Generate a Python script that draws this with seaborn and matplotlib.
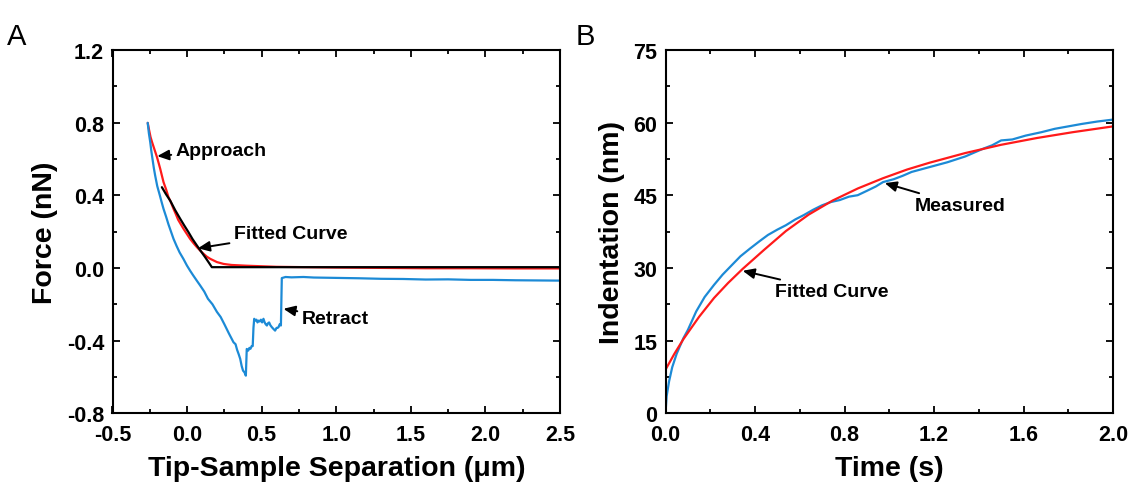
import numpy as np
import pandas as pd
import matplotlib
matplotlib.use("Agg")
import matplotlib.pyplot as plt
import seaborn as sns
from matplotlib.ticker import MultipleLocator

# ---- panel A: force curves ----
approachX = [-0.264, -0.255, -0.245, -0.234, -0.222, -0.212, -0.202, -0.19, -0.18, -0.168, -0.158, -0.14,
             -0.125, -0.108, -0.091, -0.075, -0.06, -0.042, -0.024, 0.0, 0.02, 0.044, 0.066, 0.088,
             0.11, 0.132, 0.155, 0.18, 0.2, 0.222, 0.244, 0.27, 0.3, 0.35, 0.4, 0.5, 0.6, 0.8, 1.0,
             1.3, 1.6, 1.9, 2.2, 2.5]
approachY = [0.798, 0.76, 0.72, 0.69, 0.66, 0.635, 0.61, 0.575, 0.545, 0.505, 0.472, 0.43,
             0.39, 0.36, 0.325, 0.295, 0.265, 0.24, 0.215, 0.185, 0.16, 0.135, 0.114, 0.095,
             0.078, 0.062, 0.05, 0.04, 0.032, 0.027, 0.022, 0.019, 0.016, 0.014, 0.012, 0.009, 0.006, 0.004, 0.002,
             0.0, -0.002, -0.002, -0.003, -0.003]

fitX = [-0.169, -0.141, -0.113, -0.08, -0.046, -0.018, 0.009, 0.037, 0.066, 0.094, 0.121, 0.145, 0.166,
        0.5, 1.0, 1.5, 2.0, 2.5]
fitY = [0.444, 0.405, 0.37, 0.318, 0.27, 0.232, 0.197, 0.158, 0.123, 0.09, 0.059, 0.03, 0.004,
        0.004, 0.004, 0.004, 0.004, 0.004]

retractX = [-0.264, -0.256, -0.247, -0.24, -0.232, -0.223, -0.214, -0.2, -0.183, -0.17, -0.158, -0.14,
            -0.125, -0.108, -0.091, -0.07, -0.05, -0.025, -0.001, 0.02, 0.04, 0.065, 0.088,
            0.115, 0.14, 0.17, 0.2, 0.225, 0.25, 0.28, 0.311, 0.325, 0.335, 0.346, 0.356, 0.366,
            0.375, 0.385, 0.394, 0.40, 0.405, 0.41, 0.418, 0.425, 0.433, 0.44, 0.445, 0.45,
            0.458, 0.465, 0.472, 0.479, 0.487, 0.495, 0.503, 0.512, 0.52, 0.527, 0.535, 0.542,
            0.55, 0.558, 0.568, 0.578, 0.59, 0.60, 0.607, 0.613, 0.621, 0.629, 0.635,
            0.66, 0.7, 0.78, 0.85, 1.0, 1.15, 1.3, 1.45, 1.6, 1.75, 1.9, 2.05, 2.2, 2.35, 2.5]
retractY = [0.798, 0.74, 0.692, 0.645, 0.60, 0.55, 0.508, 0.45, 0.40, 0.36, 0.325, 0.28,
            0.24, 0.2, 0.16, 0.12, 0.085, 0.05, 0.013, -0.015, -0.04, -0.07, -0.097,
            -0.13, -0.17, -0.2, -0.242, -0.27, -0.31, -0.36, -0.409, -0.42, -0.45, -0.475, -0.5, -0.54,
            -0.565, -0.575, -0.593, -0.446, -0.45, -0.455, -0.44, -0.445, -0.43, -0.43, -0.33, -0.28,
            -0.29, -0.285, -0.3, -0.29, -0.295, -0.285, -0.3, -0.28, -0.3, -0.31, -0.317, -0.305,
            -0.30, -0.315, -0.326, -0.335, -0.345, -0.33, -0.33, -0.326, -0.31, -0.317, -0.056,
            -0.05, -0.052, -0.05, -0.053, -0.055, -0.057, -0.06, -0.061, -0.064, -0.063, -0.066, -0.066,
            -0.068, -0.069, -0.07]

# ---- panel B: creep indentation ----
timeMeas = [0.0, 0.005, 0.016, 0.03, 0.05, 0.08, 0.1, 0.137, 0.175, 0.217, 0.255, 0.297, 0.335,
            0.378, 0.42, 0.458, 0.5, 0.538, 0.58, 0.618, 0.66, 0.699, 0.74, 0.779, 0.82, 0.859,
            0.9, 0.94, 0.972, 1.02, 1.06, 1.1, 1.18, 1.26, 1.34, 1.42, 1.46, 1.5, 1.55, 1.61,
            1.68, 1.74, 1.8, 1.86, 1.93, 2.0]
indentMeas = [0.0, 3.5, 6.6, 9.5, 12.3, 15.5, 17.2, 21.0, 24.0, 26.5, 28.6, 30.6, 32.4,
              34.0, 35.5, 36.8, 37.9, 38.8, 40.0, 40.9, 42.0, 42.9, 43.6, 44.0, 44.7, 45.0,
              45.9, 46.8, 47.7, 48.3, 49.0, 49.8, 50.8, 51.8, 53.0, 54.6, 55.3, 56.3, 56.5, 57.3,
              58.0, 58.7, 59.2, 59.7, 60.2, 60.6]

timeFit = [0.0, 0.04, 0.08, 0.15, 0.217, 0.28, 0.345, 0.44, 0.538, 0.64, 0.747, 0.86, 0.972,
           1.08, 1.18, 1.34, 1.5, 1.66, 1.82, 2.0]
indentFit = [9.0, 12.3, 15.3, 19.9, 23.8, 26.9, 29.8, 33.7, 37.6, 41.0, 43.9, 46.4, 48.5,
             50.3, 51.7, 53.7, 55.4, 56.8, 58.0, 59.2]

RED = "#ff1a1a"
BLUE = "#1c8ad6"

sns.set_theme(style="ticks")
plt.rcParams["font.family"] = ["Liberation Sans", "DejaVu Sans"]
plt.rcParams["font.weight"] = "bold"
plt.rcParams["text.color"] = "black"
plt.rcParams["axes.labelcolor"] = "black"
plt.rcParams["xtick.color"] = "black"
plt.rcParams["ytick.color"] = "black"
plt.rcParams["axes.linewidth"] = 1.5


def styleAxes(ax):
    ax.tick_params(which="both", direction="in", top=True, right=True, width=1.3, colors="black")
    ax.tick_params(which="major", length=5, labelsize=15.5)
    ax.tick_params(axis="x", which="major", pad=8)
    ax.tick_params(axis="y", which="major", pad=6)
    ax.tick_params(which="minor", length=3)
    for lbl in ax.get_xticklabels() + ax.get_yticklabels():
        lbl.set_fontweight("bold")
    for s in ax.spines.values():
        s.set_color("black")
        s.set_linewidth(1.5)


def note(ax, text, tip, where):
    ax.annotate(text, xy=tip, xytext=where, textcoords="data", fontsize=14, fontweight="bold",
                va="center", ha="left",
                arrowprops=dict(arrowstyle="-|>,head_length=0.5,head_width=0.22", color="black", lw=1.4,
                                shrinkA=1, shrinkB=0))


fig = plt.figure(figsize=(11.34, 4.89), dpi=100)
axA = fig.add_axes([112.5 / 1134, 1 - 414.3 / 489, 447.5 / 1134, 363.5 / 489])
axB = fig.add_axes([665.5 / 1134, 1 - 414.3 / 489, 447.5 / 1134, 363.5 / 489])

sns.lineplot(x=approachX, y=approachY, ax=axA, color=RED, lw=1.6, sort=False, estimator=None)
sns.lineplot(x=retractX, y=retractY, ax=axA, color=BLUE, lw=1.6, sort=False, estimator=None)
sns.lineplot(x=fitX, y=fitY, ax=axA, color="black", lw=1.6, sort=False, estimator=None)
axA.xaxis.set_major_locator(MultipleLocator(0.5))
axA.xaxis.set_minor_locator(MultipleLocator(0.25))
axA.yaxis.set_major_locator(MultipleLocator(0.4))
axA.yaxis.set_minor_locator(MultipleLocator(0.2))
axA.set_xlim(-0.5, 2.5)
axA.set_ylim(-0.8, 1.2)
axA.xaxis.set_major_formatter(lambda v, p: f"{v:.1f}")
axA.yaxis.set_major_formatter(lambda v, p: f"{v:.1f}")
axA.set_xlabel("Tip-Sample Separation (\u03bcm)", fontsize=20.5, fontweight="bold", labelpad=7)
axA.set_ylabel("Force (nN)", fontsize=20.5, fontweight="bold", labelpad=6)
styleAxes(axA)
note(axA, "Approach", (-0.2, 0.615), (-0.075, 0.647))
note(axA, "Fitted Curve", (0.073, 0.108), (0.315, 0.19))
note(axA, "Retract", (0.646, -0.225), (0.77, -0.276))

sns.lineplot(x=timeMeas, y=indentMeas, ax=axB, color=BLUE, lw=1.6, sort=False, estimator=None)
sns.lineplot(x=timeFit, y=indentFit, ax=axB, color=RED, lw=1.6, sort=False, estimator=None)
axB.xaxis.set_major_locator(MultipleLocator(0.4))
axB.xaxis.set_minor_locator(MultipleLocator(0.2))
axB.yaxis.set_major_locator(MultipleLocator(15))
axB.yaxis.set_minor_locator(MultipleLocator(7.5))
axB.set_xlim(0, 2.0)
axB.set_ylim(0, 75)
axB.xaxis.set_major_formatter(lambda v, p: f"{v:.1f}")
axB.set_xlabel("Time (s)", fontsize=20.5, fontweight="bold", labelpad=7)
axB.set_ylabel("Indentation (nm)", fontsize=20.5, fontweight="bold", labelpad=6)
styleAxes(axB)
note(axB, "Measured", (0.98, 47.5), (1.115, 42.9))
note(axB, "Fitted Curve", (0.345, 29.4), (0.49, 25.1))

fig.text(0.006, 1 - 45 / 489, "A", fontsize=21, fontweight="normal", va="baseline", ha="left")
fig.text(0.508, 1 - 45 / 489, "B", fontsize=21, fontweight="normal", va="baseline", ha="left")

fig.savefig("out.png", dpi=100, facecolor="white")
